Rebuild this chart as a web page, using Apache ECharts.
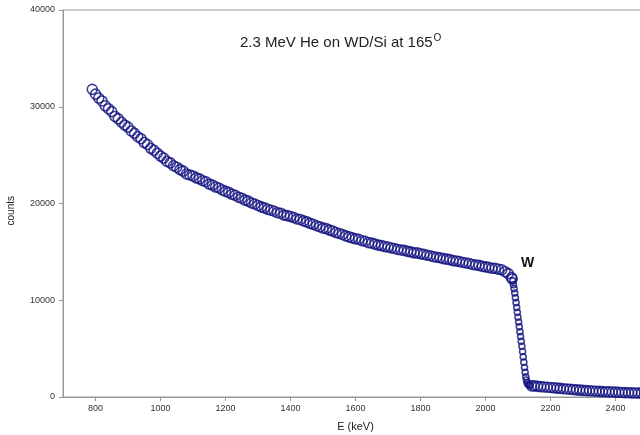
<!DOCTYPE html>
<html>
<head>
<meta charset="utf-8">
<script src="https://cdn.jsdelivr.net/npm/echarts@6/dist/echarts.min.js"></script>
<style>
html, body { margin: 0; padding: 0; background: #fff; }
#rbs { width: 640px; height: 435px; }
</style>
</head>
<body>
<div id="rbs"></div>
<script>
// energy (keV) and counts
var energy = [
    790, 800, 810, 820, 830, 840, 850, 860, 870, 880, 890, 900, 910, 920, 930, 940, 950, 960, 970, 980, 990,
    1000, 1010, 1020, 1030, 1040, 1050, 1060, 1070, 1080, 1090, 1100, 1110, 1120, 1130, 1140, 1150, 1160, 1170, 1180, 1190,
    1200, 1210, 1220, 1230, 1240, 1250, 1260, 1270, 1280, 1290, 1300, 1310, 1320, 1330, 1340, 1350, 1360, 1370, 1380, 1390,
    1400, 1410, 1420, 1430, 1440, 1450, 1460, 1470, 1480, 1490, 1500, 1510, 1520, 1530, 1540, 1550, 1560, 1570, 1580, 1590,
    1600, 1610, 1620, 1630, 1640, 1650, 1660, 1670, 1680, 1690, 1700, 1710, 1720, 1730, 1740, 1750, 1760, 1770, 1780, 1790,
    1800, 1810, 1820, 1830, 1840, 1850, 1860, 1870, 1880, 1890, 1900, 1910, 1920, 1930, 1940, 1950, 1960, 1970, 1980, 1990,
    2000, 2010, 2020, 2030, 2040, 2050, 2060, 2070, 2080,
    2082, 2084, 2086, 2088, 2090, 2092, 2094, 2096, 2098, 2100, 2102, 2104, 2106, 2108, 2110, 2112, 2114, 2116, 2118, 2120,
    2122, 2124, 2126, 2128, 2130, 2134, 2138, 2142,
    2150, 2160, 2170, 2180, 2190, 2200, 2210, 2220, 2230, 2240, 2250, 2260, 2270, 2280, 2290, 2300, 2310, 2320, 2330, 2340,
    2350, 2360, 2370, 2380, 2390, 2400, 2410, 2420, 2430, 2440, 2450, 2460, 2470, 2480, 2490, 2500
];
var counts = [
    31800, 31300, 30900, 30600, 30100, 29800, 29500, 29000, 28750, 28400, 28100, 27900, 27500, 27250, 26900, 26700, 26300, 26100, 25700, 25500, 25200,
    24900, 24700, 24350, 24200, 23900, 23750, 23500, 23350, 23050, 22950, 22850, 22650, 22550, 22350, 22250, 22000, 21900, 21700, 21600, 21400,
    21250, 21150, 20950, 20850, 20650, 20550, 20350, 20250, 20050, 19950, 19800, 19650, 19550, 19400, 19300, 19200, 19050, 19000, 18800, 18750,
    18650, 18550, 18400, 18350, 18200, 18100, 17950, 17850, 17700, 17600, 17450, 17400, 17250, 17150, 17000, 16900, 16800, 16650, 16550, 16450,
    16350, 16300, 16150, 16100, 15950, 15900, 15800, 15700, 15650, 15550, 15500, 15400, 15350, 15250, 15200, 15150, 15050, 15000, 14900, 14900,
    14800, 14750, 14650, 14600, 14500, 14450, 14400, 14300, 14250, 14200, 14100, 14050, 14000, 13900, 13850, 13800, 13700, 13650, 13600, 13500,
    13450, 13400, 13300, 13300, 13200, 13150, 12950, 12750, 12350,
    12200, 12000, 11600, 11200, 10750, 10250, 9750, 9250, 8750, 8250, 7750, 7250, 6750, 6250, 5750, 5250, 4700, 4150, 3600, 3050,
    2550, 2100, 1750, 1500, 1350, 1250, 1200, 1150,
    1150, 1100, 1070, 1040, 1010, 980, 950, 920, 890, 860, 830, 800, 770, 740, 710, 680, 660, 640, 620, 600,
    580, 560, 545, 530, 515, 500, 485, 470, 455, 440, 430, 420, 410, 400, 390, 380
];
var xTicks = [800, 1000, 1200, 1400, 1600, 1800, 2000, 2200, 2400];

var points = [];
for (var i = 0; i < energy.length; i++) {
    points.push([energy[i], counts[i]]);
}

var font = 'Liberation Sans, Arial, sans-serif';

option = {
    backgroundColor: '#fff',
    animation: false,
    title: {
        text: '2.3 MeV He on WD/Si at 165{sup|O}',
        left: 235,
        top: 28,
        textStyle: {
            fontFamily: font,
            fontSize: 15,
            fontWeight: 'normal',
            color: '#222',
            rich: {
                sup: { fontFamily: font, fontSize: 10, color: '#222', padding: [0, 0, 10, 1] }
            }
        }
    },
    grid: {
        left: 63,
        right: -8,
        top: 10,
        bottom: 38,
        outerBoundsMode: 'none',
        show: true,
        borderColor: '#999',
        borderWidth: 1
    },
    xAxis: {
        type: 'value',
        min: 700,
        max: 2500,
        name: 'E (keV)',
        nameLocation: 'middle',
        nameGap: 24,
        nameTextStyle: { fontFamily: font, fontSize: 11, color: '#222' },
        axisLine: { lineStyle: { color: '#999' } },
        axisTick: { show: true, length: 4, customValues: xTicks, lineStyle: { color: '#999' } },
        axisLabel: {
            fontFamily: font, fontSize: 9, color: '#333', margin: 7, customValues: xTicks,
            formatter: function (v) { return String(v); }
        },
        splitLine: { show: false }
    },
    yAxis: {
        type: 'value',
        min: 0,
        max: 40000,
        interval: 10000,
        axisLine: { show: true, lineStyle: { color: '#999' } },
        axisTick: { show: true, length: 4, lineStyle: { color: '#999' } },
        axisLabel: {
            fontFamily: font, fontSize: 9, color: '#333', margin: 8,
            formatter: function (v) { return String(v); }
        },
        splitLine: { show: false }
    },
    graphic: [
        {
            type: 'text',
            left: 6,
            top: 196,
            rotation: Math.PI / 2,
            style: { text: 'counts', fontFamily: font, fontSize: 10, fill: '#222' }
        },
        {
            type: 'text',
            left: 521,
            top: 256,
            style: { text: 'W', fontFamily: font, fontSize: 14, fontWeight: 'bold', fill: '#111' }
        }
    ],
    series: [
        {
            name: 'W/Si',
            type: 'scatter',
            symbol: 'circle',
            // the edge channels stand apart, the rest form a dense band
            symbolSize: function (v) {
                return (v[0] > 2083 && v[0] < 2140) ? 6 : 10;
            },
            data: points,
            itemStyle: {
                color: 'rgba(255,255,255,0)',
                borderColor: '#12127f',
                borderWidth: 1.6
            }
        }
    ]
};

//初始化echarts实例
var myChart = echarts.init(document.getElementById('rbs'));
myChart.setOption(option);
</script>
</body>
</html>
